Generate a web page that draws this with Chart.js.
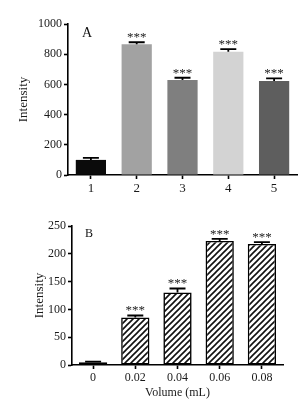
<!DOCTYPE html>
<html>
<head>
<meta charset="utf-8">
<script src="https://cdn.jsdelivr.net/npm/chart.js@4"></script>
<style>
  body { margin: 0; background: #fff; }
  #topChart { position: absolute; left: 0; top: 0; }
  #bottomChart { position: absolute; left: 0; top: 200px; }
</style>
</head>
<body>
<canvas id="topChart" width="306" height="200"></canvas>
<canvas id="bottomChart" width="306" height="204"></canvas>
<script>
'use strict';

// panel A
var labelsA = ['1', '2', '3', '4', '5'];
var valuesA = [100, 866, 629, 817, 622];
var errorsA = [13, 13, 15, 17, 18];
var starsA = ['', '***', '***', '***', '***'];
var colorsA = ['#0b0b0b', '#a2a2a2', '#7f7f7f', '#d3d3d3', '#5e5e5e'];
var ticksA = [0, 200, 400, 600, 800, 1000];

// panel B
var labelsB = ['0', '0.02', '0.04', '0.06', '0.08'];
var valuesB = [5, 85.6, 130.4, 223, 217.7];
var errorsB = [1, 3.4, 7.2, 3.7, 3.3];
var starsB = ['', '***', '***', '***', '***'];
var ticksB = [0, 50, 100, 150, 200, 250];

(function() {

  var serif = 'Liberation Serif';
  Chart.defaults.font.family = serif;
  Chart.defaults.color = '#1a1a1a';

  // hatch fill for panel B
  function makeHatch() {
    var c = document.createElement('canvas');
    c.width = 6;
    c.height = 6;
    var g = c.getContext('2d');
    g.fillStyle = '#fff';
    g.fillRect(0, 0, 6, 6);
    g.strokeStyle = '#111';
    g.lineWidth = 1.6;
    g.beginPath();
    g.moveTo(-1, 7); g.lineTo(7, -1);
    g.moveTo(-4, 4); g.lineTo(4, -4);
    g.moveTo(2, 10); g.lineTo(10, 2);
    g.stroke();
    return g.createPattern(c, 'repeat');
  }

  // error caps + significance stars + panel letter
  var extras = {
    id: 'extras',
    afterDatasetsDraw: function(chart, args, opts) {
      var ctx = chart.ctx;
      var y = chart.scales.y;
      var meta = chart.getDatasetMeta(0);
      var vals = chart.data.datasets[0].data;
      ctx.save();
      ctx.strokeStyle = '#000';
      ctx.lineWidth = 1.8;
      meta.data.forEach(function(bar, i) {
        var top = y.getPixelForValue(vals[i] + opts.errors[i]);
        var base = y.getPixelForValue(vals[i]);
        ctx.beginPath();
        ctx.moveTo(bar.x, base);
        ctx.lineTo(bar.x, top);
        ctx.moveTo(bar.x - 8, top);
        ctx.lineTo(bar.x + 8, top);
        ctx.stroke();
        if (opts.stars[i]) {
          ctx.fillStyle = '#222';
          ctx.font = '13px "' + serif + '"';
          ctx.textAlign = 'center';
          ctx.textBaseline = 'bottom';
          ctx.fillText(opts.stars[i], bar.x, top + 2);
        }
      });
      ctx.fillStyle = '#111';
      ctx.font = opts.letterSize + 'px "' + serif + '"';
      ctx.textAlign = 'center';
      ctx.textBaseline = 'middle';
      ctx.fillText(opts.letter, chart.chartArea.left + opts.letterDx, chart.chartArea.top + opts.letterDy);
      ctx.restore();
    }
  };

  function axisOpts(size) {
    return {
      border: { color: '#000', width: 1.6 },
      grid: {
        drawOnChartArea: false,
        drawTicks: true,
        tickLength: 4,
        tickWidth: 1.6,
        tickColor: '#000',
        offset: false
      },
      ticks: { font: { size: size }, padding: 2, color: '#1a1a1a' }
    };
  }

  function fixedTicks(list) {
    return function(scale) {
      scale.ticks = list.map(function(v) { return { value: v }; });
    };
  }

  function plainLabel(v) { return String(v); }

  // ---- panel A ----
  var xA = axisOpts(13);
  xA.afterFit = function(s) { s.height = 25; };
  var yA = axisOpts(12);
  yA.min = 0;
  yA.max = 1000;
  yA.afterBuildTicks = fixedTicks(ticksA);
  yA.ticks.callback = plainLabel;
  yA.afterFit = function(s) { s.width = 68; };
  yA.title = { display: true, text: 'Intensity', font: { size: 13 }, color: '#1a1a1a', padding: { top: 16, bottom: 0 } };

  new Chart(document.getElementById('topChart'), {
    type: 'bar',
    data: {
      labels: labelsA,
      datasets: [{
        data: valuesA,
        backgroundColor: colorsA,
        borderWidth: 0,
        barPercentage: 0.66,
        categoryPercentage: 1
      }]
    },
    options: {
      responsive: false,
      animation: false,
      layout: { padding: { top: 24, right: 9, left: 0, bottom: 0 } },
      plugins: {
        legend: { display: false },
        tooltip: { enabled: false },
        extras: { errors: errorsA, stars: starsA, letter: 'A', letterSize: 14, letterDx: 19, letterDy: 9 }
      },
      scales: { x: xA, y: yA }
    },
    plugins: [extras]
  });

  // ---- panel B ----
  var xB = axisOpts(12);
  xB.afterFit = function(s) { s.height = 39; };
  xB.title = { display: true, text: 'Volume (mL)', font: { size: 12 }, color: '#1a1a1a', padding: { top: 0, bottom: 4 } };
  var yB = axisOpts(12);
  yB.min = 0;
  yB.max = 250;
  yB.afterBuildTicks = fixedTicks(ticksB);
  yB.ticks.callback = plainLabel;
  yB.afterFit = function(s) { s.width = 72; };
  yB.title = { display: true, text: 'Intensity', font: { size: 13 }, color: '#1a1a1a', padding: { top: 32, bottom: 0 } };

  new Chart(document.getElementById('bottomChart'), {
    type: 'bar',
    data: {
      labels: labelsB,
      datasets: [{
        data: valuesB,
        backgroundColor: makeHatch(),
        borderColor: '#000',
        borderWidth: 1.6,
        borderSkipped: false,
        barPercentage: 0.67,
        categoryPercentage: 1
      }]
    },
    options: {
      responsive: false,
      animation: false,
      layout: { padding: { top: 26, right: 23, left: 0, bottom: 0 } },
      plugins: {
        legend: { display: false },
        tooltip: { enabled: false },
        extras: { errors: errorsB, stars: starsB, letter: 'B', letterSize: 12, letterDx: 17, letterDy: 8 }
      },
      scales: { x: xB, y: yB }
    },
    plugins: [extras]
  });

})();
</script>
</body>
</html>
